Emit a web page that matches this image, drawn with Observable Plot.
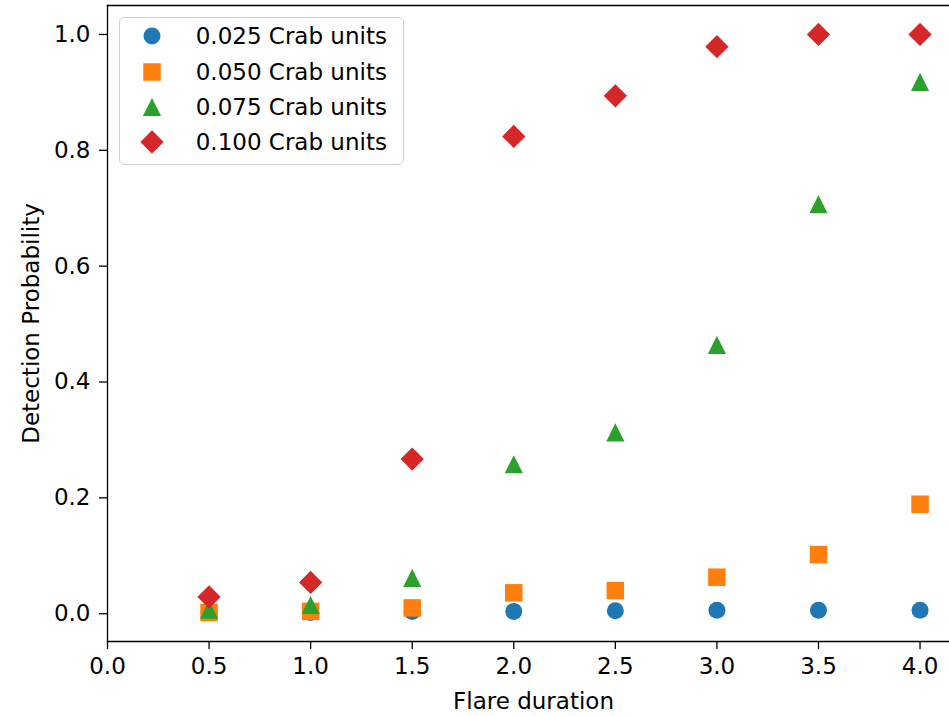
<!DOCTYPE html>
<html>
<head>
<meta charset="utf-8">
<script src="https://cdn.jsdelivr.net/npm/d3@7"></script>
<script src="https://cdn.jsdelivr.net/npm/@observablehq/plot@0.6"></script>
<style>
  html, body { margin: 0; padding: 0; background: #fff; }
  #wrap { position: relative; width: 949px; height: 716px; font-family: "DejaVu Sans", sans-serif; overflow: hidden; }
  #legend { position: absolute; left: 119px; top: 17px; width: 285px; height: 148px; box-sizing: border-box;
            border: 1.3px solid #d2d2d2; border-radius: 5px; background: rgba(255,255,255,0.8); }
  .row { position: absolute; left: 0; height: 30px; width: 280px; }
  .row svg { position: absolute; left: 16.7px; top: 0; }
  .row span { position: absolute; left: 75.7px; top: 0; line-height: 30px; font-size: 23px; color: #000; white-space: nowrap; }
</style>
</head>
<body>
<div id="wrap"></div>
<script>
// ---- data ----
const durations = [0.5, 1.0, 1.5, 2.0, 2.5, 3.0, 3.5, 4.0];
const seriesLabels = ["0.025 Crab units", "0.050 Crab units", "0.075 Crab units", "0.100 Crab units"];
const p025 = [0.002, 0.002, 0.004, 0.004, 0.005, 0.006, 0.006, 0.006];
const p050 = [0.002, 0.004, 0.010, 0.036, 0.040, 0.063, 0.102, 0.189];
const p075 = [0.007, 0.015, 0.062, 0.258, 0.313, 0.464, 0.707, 0.918];
const p100 = [0.029, 0.054, 0.267, 0.824, 0.894, 0.979, 1.000, 1.000];
const xTicks = [0.0, 0.5, 1.0, 1.5, 2.0, 2.5, 3.0, 3.5, 4.0];
const yTicks = [0.0, 0.2, 0.4, 0.6, 0.8, 1.0];
const xLabel = "Flare duration";
const yLabel = "Detection Probability";
const colors = ["#1f77b4", "#ff7f0e", "#2ca02c", "#d62728"];

// ---- symbols (matplotlib-like o, s, ^, D) ----
const R = 8.5;
const symCircle = { draw(ctx, size) { const r = Math.sqrt(size / Math.PI); ctx.moveTo(r, 0); ctx.arc(0, 0, r, 0, 2 * Math.PI); } };
const symSquare = { draw(ctx, size) { const h = Math.sqrt(size / Math.PI) * 1.03; ctx.moveTo(-h, -h); ctx.lineTo(h, -h); ctx.lineTo(h, h); ctx.lineTo(-h, h); ctx.closePath(); } };
const symTri = { draw(ctx, size) { const h = Math.sqrt(size / Math.PI) * 1.07; ctx.moveTo(0, -h); ctx.lineTo(h, h); ctx.lineTo(-h, h); ctx.closePath(); } };
const symDiamond = { draw(ctx, size) { const h = Math.sqrt(size / Math.PI) * 1.37; ctx.moveTo(0, -h); ctx.lineTo(h, 0); ctx.lineTo(0, h); ctx.lineTo(-h, 0); ctx.closePath(); } };
const symbols = [symCircle, symSquare, symTri, symDiamond];

const seriesValues = [p025, p050, p075, p100];
const tables = seriesValues.map((vals, s) => durations.map((d, i) => ({ duration: d, prob: vals[i], series: seriesLabels[s] })));

const fontSize = 23;
const chart = Plot.plot({
  width: 949,
  height: 716,
  marginLeft: 107,
  marginRight: 0,
  marginTop: 5,
  marginBottom: 75,
  style: { fontFamily: "DejaVu Sans", fontSize: "23px", background: "white", color: "black", overflow: "visible" },
  x: { domain: [0, 4.145] },
  y: { domain: [-0.048, 1.05] },
  marks: [
    Plot.frame({ anchor: "top", stroke: "black", strokeWidth: 1.3 }),
    Plot.frame({ anchor: "left", stroke: "black", strokeWidth: 1.3 }),
    Plot.frame({ anchor: "bottom", stroke: "black", strokeWidth: 1.3 }),
    Plot.axisX({ ticks: xTicks, tickFormat: d3.format(".1f"), tickSize: 8, tickPadding: 8, label: null, fontSize, strokeWidth: 1.3, stroke: "black" }),
    Plot.axisY({ ticks: yTicks, tickFormat: d3.format(".1f"), tickSize: 8, tickPadding: 9, label: null, fontSize, strokeWidth: 1.3, stroke: "black" }),
    ...tables.map((t, s) => Plot.dot(t, { x: "duration", y: "prob", r: R, symbol: () => symbols[s], fill: colors[s], stroke: "none" })),
    Plot.text([xLabel], { text: d => d, frameAnchor: "bottom", dx: 5, dy: 60, lineAnchor: "middle", textAnchor: "middle", fontSize, fill: "black" }),
    Plot.text([yLabel], { text: d => d, frameAnchor: "left", rotate: -90, dx: -76, lineAnchor: "middle", textAnchor: "middle", fontSize, fill: "black" })
  ]
});

const wrap = document.getElementById("wrap");
wrap.appendChild(chart);

// ---- legend (matplotlib style, inside axes, upper left) ----
const legend = document.createElement("div");
legend.id = "legend";
seriesLabels.forEach((lab, i) => {
  const row = document.createElement("div");
  row.className = "row";
  row.style.top = (3.4 + i * 35.3) + "px";
  const svg = d3.create("svg").attr("width", 30).attr("height", 30);
  svg.append("path")
    .attr("transform", "translate(15,15)")
    .attr("d", d3.symbol(symbols[i], Math.PI * R * R)())
    .attr("fill", colors[i]);
  row.appendChild(svg.node());
  const span = document.createElement("span");
  span.textContent = lab;
  row.appendChild(span);
  legend.appendChild(row);
});
wrap.appendChild(legend);
</script>
</body>
</html>
